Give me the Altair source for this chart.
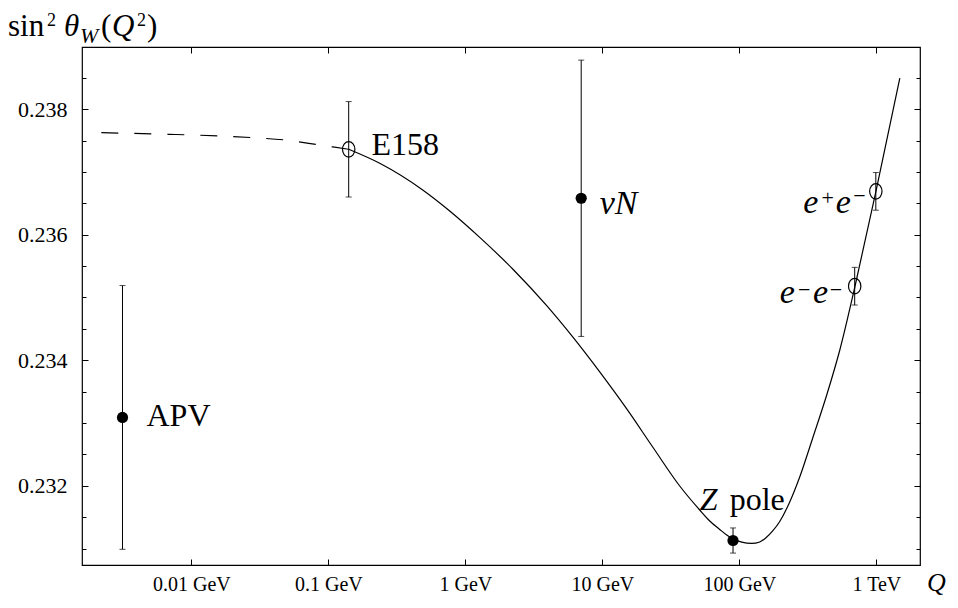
import altair as alt
import pandas as pd

SERIF = "Liberation Serif, Times New Roman, DejaVu Serif, serif"

# ---- model curve ----
dash_q = [0.0022, 0.00686, 0.028, 0.0495, 0.0864, 0.1406]
dash_s = [0.237624, 0.237599, 0.237545, 0.237506, 0.237428, 0.23736]

curve_q = [0.1406, 0.2368, 0.4878, 0.7681, 1.2718, 2.214, 3.921, 6.071, 9.556, 15.05,
           23.29, 36.67, 51.31, 60.72, 71.81, 80.77, 89.35, 103.9, 122.9, 140.7,
           155.6, 175.0, 196.9, 232.9, 275.5, 342.8, 433.7, 540.5, 695.7, 990, 1482]
curve_s = [0.237360, 0.237137, 0.236712, 0.236377, 0.235957, 0.235454, 0.234869, 0.234371, 0.233814, 0.233225,
           0.232619, 0.231998, 0.231616, 0.231441, 0.231306, 0.231218, 0.231158, 0.231104, 0.231083, 0.231107,
           0.231170, 0.231282, 0.231433, 0.231744, 0.232142, 0.232763, 0.233447, 0.234164, 0.235167, 0.236680,
           0.238495]

# ---- measurements ----
exp_name = ["APV", "E158", "νN", "Z pole", "e−e−", "e+e−"]
exp_q = [0.00314, 0.1406, 7.0, 89.8, 694, 990]
exp_s = [0.23309, 0.23736, 0.23658, 0.23113, 0.23518, 0.23669]
exp_err = [0.0021, 0.00076, 0.0022, 0.0002, 0.0003, 0.0003]
exp_marker = ["filled", "open", "filled", "filled", "open", "open"]

# ---- ticks ----
x_ticks = [0.01, 0.1, 1, 10, 100, 1000]
x_tick_text = ["0.01 GeV", "0.1 GeV", "1 GeV", "10 GeV", "100 GeV", "1 TeV"]
y_major = [0.232, 0.234, 0.236, 0.238]
y_minor = [0.2310, 0.2315, 0.2320, 0.2325, 0.2330, 0.2335, 0.2340, 0.2345,
           0.2350, 0.2355, 0.2360, 0.2365, 0.2370, 0.2375, 0.2380, 0.2385]

W, H = 838, 518
xs = alt.Scale(type="log", domain=[0.00159, 2080], nice=False)
ys = alt.Scale(domain=[0.23074, 0.238989], nice=False, zero=False)

label_expr = " : ".join(f"datum.value == {v} ? '{t}'" for v, t in zip(x_ticks, x_tick_text)) + " : ''"

common_tick = dict(labels=False, domain=False, grid=False, tickColor="black", tickWidth=1, title=None)
ax_x_lab = alt.Axis(orient="bottom", values=x_ticks, labelExpr=label_expr, ticks=False, tickSize=0,
                    domain=False, grid=False, labelFont=SERIF, labelFontSize=20, labelPadding=9,
                    labelColor="black", labelFlush=False, labelOverlap=False, title=None)
ax_x_bot_in = alt.Axis(orient="top", offset=-H, values=x_ticks, tickSize=6, **common_tick)
ax_x_top_in = alt.Axis(orient="bottom", offset=-H, values=x_ticks, tickSize=6, **common_tick)

ax_y_lab = alt.Axis(orient="left", values=y_major, format=".3f", ticks=False, tickSize=0, domain=False,
                    grid=False, labelFont=SERIF, labelFontSize=22, labelPadding=15, labelColor="black",
                    labelFlush=False, labelOverlap=False, title=None)
ax_y_l_maj = alt.Axis(orient="right", offset=-W, values=y_major, tickSize=6, **common_tick)
ax_y_l_min = alt.Axis(orient="right", offset=-W, values=y_minor, tickSize=4, **common_tick)
ax_y_r_maj = alt.Axis(orient="left", offset=-W, values=y_major, tickSize=6, **common_tick)
ax_y_r_min = alt.Axis(orient="left", offset=-W, values=y_minor, tickSize=4, **common_tick)


def X(axis=None, field="q"):
    return alt.X(f"{field}:Q", scale=xs, axis=axis)


def Y(axis=None, field="s"):
    return alt.Y(f"{field}:Q", scale=ys, axis=axis)


curve_df = pd.DataFrame({"q": curve_q, "s": curve_s})
dash_df = pd.DataFrame({"q": dash_q, "s": dash_s})
exp_df = pd.DataFrame({"q": exp_q, "s": exp_s, "err": exp_err, "marker": exp_marker, "name": exp_name})
exp_df["lo"] = exp_df["s"] - exp_df["err"]
exp_df["hi"] = exp_df["s"] + exp_df["err"]
caps_df = pd.concat([
    pd.DataFrame({"q": exp_df["q"], "v": exp_df["lo"]}),
    pd.DataFrame({"q": exp_df["q"], "v": exp_df["hi"]}),
], ignore_index=True)

solid = alt.Chart(curve_df).mark_line(color="black", strokeWidth=1.2, interpolate="monotone").encode(
    x=X(ax_x_lab), y=Y(ax_y_lab), order="q:Q")
dashed = alt.Chart(dash_df).mark_line(color="black", strokeWidth=1.2, strokeDash=[17, 16],
                                      interpolate="monotone").encode(
    x=X(ax_x_bot_in), y=Y(ax_y_l_maj), order="q:Q")
rules = alt.Chart(exp_df).mark_rule(color="black", strokeWidth=1).encode(
    x=X(ax_x_top_in), y=Y(ax_y_l_min, "lo"), y2="hi:Q")
caps = alt.Chart(caps_df).mark_tick(color="black", orient="horizontal", size=6, thickness=1).encode(
    x=X(), y=Y(ax_y_r_maj, "v"))
filled = alt.Chart(exp_df[exp_df["marker"] == "filled"]).mark_point(
    shape="circle", filled=True, color="black", size=125, opacity=1).encode(
    x=X(), y=Y(ax_y_r_min))
ELLIPSE = ("M 0.8 0 C 0.8 0.5523 0.4418 1 0 1 C -0.4418 1 -0.8 0.5523 -0.8 0 "
           "C -0.8 -0.5523 -0.4418 -1 0 -1 C 0.4418 -1 0.8 -0.5523 0.8 0 Z")
opened = alt.Chart(exp_df[exp_df["marker"] == "open"]).mark_point(
    shape=ELLIPSE, filled=False, color="black", strokeWidth=1.2, size=240, opacity=1).encode(
    x=X(), y=Y())


def piece(i, text, dx, dy, size=32, style="normal", baseline="alphabetic"):
    df = pd.DataFrame({"q": [exp_q[i]], "s": [exp_s[i]], "t": [text]})
    return alt.Chart(df).mark_text(dx=dx, dy=dy, align="left", baseline=baseline, font=SERIF,
                                   fontSize=size, fontStyle=style, color="black").encode(
        x=X(), y=Y(), text="t:N")


labels = [
    piece(0, "APV", 24, 9),
    piece(1, "E158", 22.7, 5.7),
    piece(2, "νN", 18.5, 15.6, 34, "italic"),
    piece(3, "Z", -33.3, -30.3, 32, "italic"),
    piece(3, "pole", -3.3, -30.3),
    piece(4, "e", -75, 17.3, 34, "italic"),
    piece(4, "−", -56.7, 4, 22, "normal", "middle"),
    piece(4, "e", -41.7, 17.3, 34, "italic"),
    piece(4, "−", -25, 4, 22, "normal", "middle"),
    piece(5, "e", -72.7, 21.6, 34, "italic"),
    piece(5, "+", -54.3, 6.3, 22, "normal", "middle"),
    piece(5, "e", -40, 21.6, 34, "italic"),
    piece(5, "−", -22.7, 5, 22, "normal", "middle"),
]


def free_text(text, px, py, size, style="normal"):
    df = pd.DataFrame({"t": [text]})
    return alt.Chart(df).mark_text(align="left", baseline="alphabetic", font=SERIF, fontSize=size,
                                   fontStyle=style, color="black").encode(
        x=alt.value(px), y=alt.value(py), text="t:N")


title_parts = [
    free_text("sin", -74, -11, 31),
    free_text("2", -35, -21, 18),
    free_text("θ", -18, -11, 31, "italic"),
    free_text("W", -2, -4, 22, "italic"),
    free_text("(", 19, -11, 31),
    free_text("Q", 30, -11, 31, "italic"),
    free_text("2", 55, -21, 18),
    free_text(")", 65, -11, 31),
    free_text("Q", 845, 544, 26, "italic"),
]

chart = alt.layer(solid, dashed, rules, caps, filled, opened, *labels, *title_parts).resolve_axis(
    x="independent", y="independent"
).properties(
    width=W, height=H,
    padding={"left": 74, "top": 39, "right": 30, "bottom": 34},
    autosize=alt.AutoSizeParams(type="none"),
    background="white",
).configure_view(stroke="black", strokeWidth=1.2)

chart.save("out.html", embed_options={"renderer": "svg", "actions": False})
